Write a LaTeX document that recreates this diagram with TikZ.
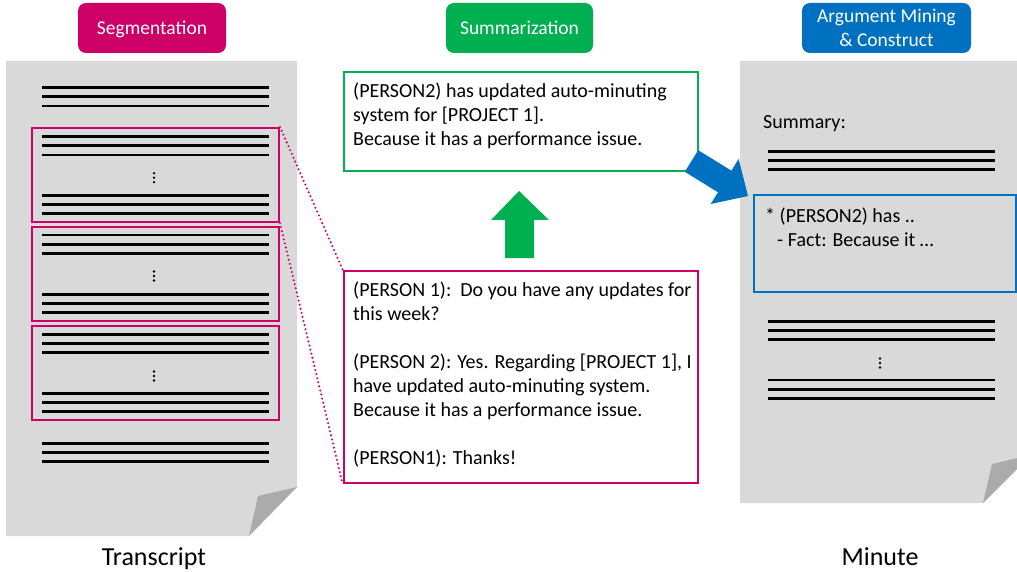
\documentclass[tikz,border=0pt]{standalone}
\usepackage{fontspec}
\setmainfont{Carlito}
\definecolor{segc}{HTML}{CC0066}
\definecolor{sumc}{HTML}{00B050}
\definecolor{argc}{HTML}{0070C0}
\definecolor{docc}{HTML}{D9D9D9}
\definecolor{foldc}{HTML}{ABABAB}
\newcommand\threelines[3]{\foreach \k in {0,1,2} {\draw[docline] ({#1},{#3+\k*9.2}) -- ({#2},{#3+\k*9.2});}}
\newcommand\vdotsat[2]{\foreach \k in {-1,0,1} {\fill ({#1},{#2+\k*4.5}) circle (1.3);}}
\begin{document}
\begin{tikzpicture}[x=1pt,y=-1pt,
  stagebox/.style={rounded corners=8pt, fill=#1, text=white, font=\fontsize{19.5}{24}\selectfont,
    minimum height=50pt, inner sep=0pt, align=center},
  oneline/.style={text height=13.5pt, text depth=0pt},
  docline/.style={line width=2.8pt, black},
  segbox/.style={draw=segc, line width=2pt, minimum width=247pt, minimum height=94pt, inner sep=0pt},
  txt/.style={font=\fontsize{20}{24}\selectfont, align=left, inner sep=0pt, text=black},
  doclabel/.style={font=\fontsize{26}{30}\selectfont, inner sep=0pt},
  dotline/.style={segc, line width=2.3pt, line cap=round, dash pattern=on 0pt off 4.2pt}
]
\useasboundingbox (0,0) rectangle (1017,572);
\clip (0,0) rectangle (1017,572);

% stage labels
\node[stagebox=segc, oneline, minimum width=148pt] (seg) at (152,28) {Segmentation};
\node[stagebox=sumc, oneline, minimum width=147pt] (sum) at (519.5,28) {Summarization};
\node[stagebox=argc, minimum width=169pt] (arg) at (886.5,28) {Argument Mining\\ \& Construct};

% transcript document
\fill[docc] (6,61) -- (297,61) -- (297,487) -- (249,536) -- (6,536) -- cycle;
\fill[foldc] (297,487) -- (258,496) -- (249,536) -- cycle;
\threelines{42}{268.5}{87.7}
\node[segbox] (seg1) at (155.5,175) {};
\node[segbox] (seg2) at (155.5,274) {};
\node[segbox] (seg3) at (155.5,373) {};
\threelines{42}{268.5}{136.7}
\vdotsat{154}{177.7}
\threelines{42}{268.5}{195.3}
\threelines{42}{268.5}{235}
\vdotsat{154}{276}
\threelines{42}{268.5}{294.3}
\threelines{42}{268.5}{334.3}
\vdotsat{154}{376}
\threelines{42}{268.5}{393.3}
\threelines{42}{268.5}{443.3}
\node[doclabel, anchor=base] (trl) at (154,565) {Transcript};

% summary box
\node[draw=sumc, line width=2.5pt, minimum width=354pt, minimum height=99pt, inner sep=0pt] (sbox) at (521,121.5) {};
\node[txt, anchor=north west] (stext) at (353,80.2) {\strut(PERSON2) has updated auto-minuting\\ system for [PROJECT 1].\\ Because it has a performance issue.};

% dialogue box
\node[draw=segc, line width=2.5pt, minimum width=354pt, minimum height=212pt, inner sep=0pt] (dbox) at (521,377) {};
\node[txt, anchor=north west] (dtext) at (353,279.2) {\strut(PERSON 1):\ \ Do you have any updates for\\ this week?\\ \strut\\ (PERSON 2): Yes. Regarding [PROJECT 1], I\\ have updated auto-minuting system.\\ Because it has a performance issue.\\ \strut\\ (PERSON1): Thanks!};

% dotted connectors
\draw[dotline] (seg1.north east) -- (dbox.north west);
\draw[dotline] (seg1.south east) -- (dbox.south west);

% green up arrow
\fill[sumc] (505,258) -- (505,220) -- (491,220) -- (519,191) -- (549,220) -- (534,220) -- (534,258) -- cycle;

% minute document
\fill[docc] (740,61) -- (1031,61) -- (1031,455) -- (983,503) -- (740,503) -- cycle;
\fill[foldc] (1031,455) -- (992,464) -- (983,503) -- cycle;
\node[txt, anchor=base west] (summ) at (763,128.5) {Summary:};
\threelines{768}{995}{151.5}
\node[draw=argc, line width=2pt, minimum width=262pt, minimum height=97pt, inner sep=0pt] (abox) at (885,243.5) {};
\node[txt, anchor=north west] (atext) at (765,205.2) {\strut* (PERSON2) has ..\\ \hspace*{12pt}- Fact: Because it …};
\threelines{768}{995}{321.3}
\vdotsat{880}{363}
\threelines{768}{995}{380}
\node[doclabel, anchor=base] (mnl) at (880,565) {Minute};

% blue arrow
\fill[argc] (698.2,150.2) -- (731.4,170.7) -- (738.6,159.0) -- (748,196) -- (710.7,204) -- (718.0,192.3) -- (684.8,171.8) -- cycle;
\end{tikzpicture}
\end{document}
